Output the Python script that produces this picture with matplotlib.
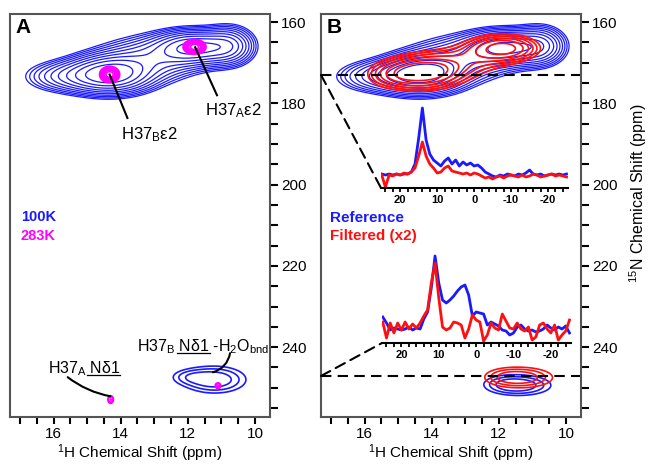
import numpy as np
import matplotlib.pyplot as plt
from matplotlib.patches import ConnectionPatch
from matplotlib.lines import Line2D

plt.rcParams['font.family'] = ['Liberation Sans', 'DejaVu Sans']
plt.rcParams['mathtext.fontset'] = 'custom'
plt.rcParams['mathtext.rm'] = 'Liberation Sans'
plt.rcParams['mathtext.it'] = 'Liberation Sans:italic'

# 2D peak lists: 1H shift, 15N shift, 1H width, 15N width, height
# 100K spectrum (blue), N-epsilon2 region
cold_h = [14.33, 11.80, 15.70, 13.10, 10.75]
cold_n = [172.9, 166.2, 173.4, 169.0, 165.8]
cold_wh = [0.75, 0.70, 0.75, 0.95, 0.45]
cold_wn = [2.8, 2.5, 2.4, 3.4, 2.9]
cold_amp = [1.0, 0.85, 0.30, 0.40, 0.45]

# 100K spectrum (blue), N-delta1 region
cold2_h = [11.20, 12.00]
cold2_n = [248.0, 247.3]
cold2_wh = [0.65, 0.40]
cold2_wn = [2.3, 1.3]
cold2_amp = [0.14, 0.05]

# 283K spectrum (magenta)
warm_h = [14.33, 11.80, 11.10, 14.30]
warm_n = [172.9, 166.1, 249.5, 252.9]
warm_wh = [0.14, 0.16, 0.07, 0.07]
warm_wn = [0.95, 0.86, 0.60, 0.80]
warm_amp = [1.0, 1.0, 0.2, 0.2]

# filtered spectrum (red, panel B)
filt_h = [14.26, 11.86, 13.00, 15.20]
filt_n = [172.3, 166.4, 169.5, 173.0]
filt_wh = [0.75, 0.65, 0.85, 0.55]
filt_wn = [2.6, 2.1, 2.8, 2.3]
filt_amp = [1.0, 0.9, 0.35, 0.30]

filt2_h = [11.30, 11.90]
filt2_n = [247.5, 247.3]
filt2_wh = [0.65, 0.45]
filt2_wn = [1.75, 1.5]
filt2_amp = [0.13, 0.04]

# reference, N-delta1 region in panel B (blue)
ref2_h = [11.35, 11.90]
ref2_n = [249.4, 249.0]
ref2_wh = [0.65, 0.45]
ref2_wn = [1.75, 1.5]
ref2_amp = [0.13, 0.04]

# 1D slices (inset spectra), kHz offset
slice_x = np.arange(25, -26, -1)
upper_ref = [14, 13, 14, 13, 14, 13, 14, 14, 16, 24, 50, 80, 48, 34, 28, 25, 22,
             27, 30, 24, 28, 22, 26, 23, 25, 22, 23, 20, 16, 14, 12, 11, 13, 12,
             14, 13, 12, 14, 13, 15, 18, 14, 13, 14, 12, 13, 14, 13, 14, 13, 14]
upper_filt = [13, 1, 13, 12, 14, 13, 15, 14, 16, 20, 32, 46, 32, 24, 20, 15, 16,
              20, 22, 17, 16, 15, 14, 15, 13, 15, 14, 12, 10, 11, 9, 11, 12, 10,
              12, 13, 12, 11, 13, 11, 12, 14, 13, 11, 12, 13, 14, 12, 13, 12, 11]
lower_ref = [26, 20, 13, 15, 14, 13, 14, 16, 13, 15, 14, 24, 31, 55, 87, 60, 43,
             40, 43, 47, 52, 56, 58, 48, 27, 31, 30, 29, 18, 21, 19, 17, 13, 12,
             8, 10, 16, 18, 14, 12, 13, 11, 12, 14, 18, 15, 13, 16, 14, 17, 10]
lower_filt = [21, 5, 20, 10, 20, 13, 21, 14, 19, 15, 20, 27, 33, 60, 80, 45, 16,
              13, 15, 21, 20, 18, 5, 14, 28, 23, 21, 2, 8, 20, 15, 13, 29, 22,
              15, 14, 20, 14, 12, 16, 3, 6, 18, 20, 14, 10, 18, 3, 8, 12, 23]

slice_n = [173.0, 247.1]

BLUE = '#1a1aff'
RED = '#ff1010'
MAG = '#ff00ff'

hx = np.linspace(9.4, 17.5, 500)
ny = np.linspace(156, 259, 1100)
H, N = np.meshgrid(hx, ny)


def field(h, n, wh, wn, amp):
    z = np.zeros_like(H)
    for a, b, c, d, e in zip(h, n, wh, wn, amp):
        z += e * np.exp(-0.5 * (((H - a) / c) ** 2 + ((N - b) / d) ** 2))
    return z


cold = field(cold_h, cold_n, cold_wh, cold_wn, cold_amp)
cold2 = field(cold2_h, cold2_n, cold2_wh, cold2_wn, cold2_amp)
warm = field(warm_h, warm_n, warm_wh, warm_wn, warm_amp)
filt = field(filt_h, filt_n, filt_wh, filt_wn, filt_amp)
filt2 = field(filt2_h, filt2_n, filt2_wh, filt2_wn, filt2_amp)
ref2 = field(ref2_h, ref2_n, ref2_wh, ref2_wn, ref2_amp)

cold_lev = 0.1 * 1.27 ** np.arange(11)
warm_lev = 0.1 * 1.4 ** np.arange(7)
filt_lev = 0.22 * 1.3 ** np.arange(6)
low_lev = [0.05, 0.075, 0.105]

fig = plt.figure(figsize=(6.48, 4.65), dpi=100)
axA = fig.add_axes([10 / 648, 48 / 465, 260 / 648, 403 / 465])
axB = fig.add_axes([321 / 648, 48 / 465, 260 / 648, 403 / 465])

for ax, lab in [(axA, 'A'), (axB, 'B')]:
    ax.set_xlim(17.3, 9.55)
    ax.set_ylim(257.2, 158.0)
    ax.yaxis.tick_right()
    ax.set_xticks([16, 14, 12, 10])
    ax.set_xticks(np.arange(17, 9.5, -0.5), minor=True)
    ax.set_yticks([160, 180, 200, 220, 240])
    ax.set_yticks(np.arange(160, 256, 5), minor=True)
    ax.tick_params(which='both', direction='out', length=5, width=1.5,
                   labelsize=11, color='black')
    ax.tick_params(axis='x', which='both', pad=2)
    ax.tick_params(axis='y', which='both', length=6, pad=2)
    for s in ax.spines.values():
        s.set_color('#555555')
        s.set_linewidth(1.5)
    ax.set_xlabel('$^1$H Chemical Shift (ppm)', fontsize=11, labelpad=1)
    ax.text(0.023, 0.99, lab, transform=ax.transAxes, ha='left', va='top',
            fontsize=15, fontweight='bold')

# panel A
axA.contour(H, N, cold, levels=cold_lev, colors=BLUE, linewidths=0.9)
axA.contour(H, N, cold2, levels=low_lev, colors=BLUE, linewidths=1.2)
axA.contour(H, N, warm, levels=warm_lev, colors=MAG, linewidths=1.2)

axA.plot([14.33, 13.80], [172.9, 183.6], color='black', lw=1.5)
axA.plot([11.78, 11.13], [166.2, 178.0], color='black', lw=1.5)
axA.text(13.98, 187.8, r'H37$_\mathregular{B}$ε2', fontsize=12, ha='left', va='center')
axA.text(11.49, 181.7, r'H37$_\mathregular{A}$ε2', fontsize=12, ha='left', va='center')

axA.text(16.98, 208.0, '100K', color=BLUE, fontsize=10.5, fontweight='bold', va='center')
axA.text(16.98, 212.7, '283K', color=MAG, fontsize=10.5, fontweight='bold', va='center')

lab_a = r'H37$_\mathregular{A}$ Nδ1'
lab_b = r'H37$_\mathregular{B}$ Nδ1 -H$_\mathregular{2}$O$_\mathregular{bnd}$'
tA = axA.text(16.18, 245.2, lab_a, fontsize=11.5, ha='left', va='center')
tB = axA.text(13.50, 240.0, lab_b, fontsize=11.5, ha='left', va='center')
pre = [axA.text(16.18, 245.2, r'H37$_\mathregular{A}$ ', fontsize=11.5, ha='left',
                va='center', alpha=0),
       axA.text(13.50, 240.0, r'H37$_\mathregular{B}$ ', fontsize=11.5, ha='left',
                va='center', alpha=0)]
upto = [axA.text(16.18, 245.2, lab_a, fontsize=11.5, ha='left', va='center', alpha=0),
        axA.text(13.50, 240.0, r'H37$_\mathregular{B}$ Nδ1', fontsize=11.5,
                 ha='left', va='center', alpha=0)]

axA.annotate('', xy=(14.31, 252.1), xytext=(15.58, 247.4),
             arrowprops=dict(arrowstyle='-', lw=1.5, color='black',
                             connectionstyle='arc3,rad=0.12', shrinkA=0, shrinkB=0))
axA.annotate('', xy=(11.25, 246.2), xytext=(10.74, 241.5),
             arrowprops=dict(arrowstyle='-', lw=1.5, color='black',
                             connectionstyle='arc3,rad=-0.3', shrinkA=0, shrinkB=0))

# panel B
axB.contour(H, N, cold, levels=cold_lev[:10], colors=BLUE, linewidths=0.9)
axB.contour(H, N, ref2, levels=low_lev, colors=BLUE, linewidths=1.2)
axB.contour(H, N, filt, levels=filt_lev, colors=RED, linewidths=1.2)
axB.contour(H, N, filt2, levels=low_lev, colors=RED, linewidths=1.2)
for v in slice_n:
    axB.axhline(v, color='black', ls=(0, (5, 3)), lw=1.5)
axB.text(17.02, 208.2, 'Reference', color=BLUE, fontsize=11, fontweight='bold', va='center')
axB.text(17.02, 212.7, 'Filtered (x2)', color=RED, fontsize=11, fontweight='bold', va='center')

fig.text(0.985, 0.585, '$^{15}$N Chemical Shift (ppm)', rotation=90, fontsize=11.5,
         ha='center', va='center')

insU = fig.add_axes([381 / 648, (465 - 188) / 465, 187 / 648, 90 / 465])
insL = fig.add_axes([382 / 648, (465 - 343) / 465, 189 / 648, 90 / 465])
for ins, ref, flt, v in [(insU, upper_ref, upper_filt, slice_n[0]),
                         (insL, lower_ref, lower_filt, slice_n[1])]:
    ins.patch.set_alpha(0)
    ins.plot(slice_x, ref, color=BLUE, lw=2)
    ins.plot(slice_x, flt, color=RED, lw=2)
    ins.set_xlim(25.2, -25.4)
    ins.set_ylim(0, 90)
    for k in ['top', 'left', 'right']:
        ins.spines[k].set_visible(False)
    ins.spines['bottom'].set_linewidth(1.5)
    ins.set_yticks([])
    ins.set_xticks([20, 10, 0, -10, -20])
    ins.set_xticklabels(['20', '10', '0', '-10', '-20'], fontweight='bold')
    ins.set_xticks(np.arange(24, -26, -2), minor=True)
    ins.tick_params(which='both', direction='out', length=3, width=1.3,
                    labelsize=8, pad=2)
    con = ConnectionPatch(xyA=(0, v), coordsA=axB.get_yaxis_transform(),
                          xyB=(0, 0), coordsB=ins.transAxes,
                          color='black', ls=(0, (5, 3)), lw=1.5)
    fig.add_artist(con)

# underline the N-delta-1 part of the labels
fig.canvas.draw()
r = fig.canvas.get_renderer()
inv = fig.transFigure.inverted()
for p, u, t in zip(pre, upto, [tA, tB]):
    b0 = p.get_window_extent(r)
    b1 = u.get_window_extent(r)
    bt = t.get_window_extent(r)
    x0, y0 = inv.transform((b0.x1, bt.y0 + 3))
    x1, _ = inv.transform((b1.x1, bt.y0 + 3))
    fig.add_artist(Line2D([x0, x1], [y0, y0], color='black', lw=0.9))

fig.savefig('out.png', dpi=100)
